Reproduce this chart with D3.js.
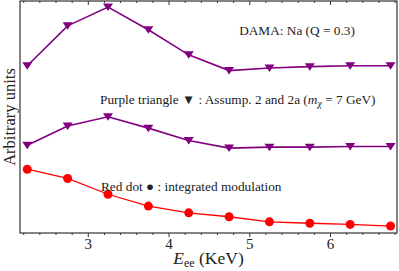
<!DOCTYPE html>
<html>
<head>
<meta charset="utf-8">
<script src="https://cdn.jsdelivr.net/npm/d3@7"></script>
<style>
  body { margin: 0; background: #fff; }
</style>
</head>
<body>
<svg id="chart"></svg>
<script>
// energy bins (KeV)
const energy = [2.25, 2.75, 3.25, 3.75, 4.25, 4.75, 5.25, 5.75, 6.25, 6.75];
// DAMA Na, arbitrary units
const damaNa = [7.21, 8.93, 9.74, 8.76, 7.68, 7.00, 7.11, 7.17, 7.21, 7.21];
const assump2 = [3.78, 4.61, 5.01, 4.52, 3.99, 3.66, 3.70, 3.70, 3.73, 3.73];
const modulation = [2.75, 2.35, 1.67, 1.16, 0.87, 0.70, 0.48, 0.42, 0.37, 0.30];
const xTicks = [3, 4, 5, 6];

const width = 399, height = 271;
const margin = {top: 1, right: 2, bottom: 38, left: 20};
const serif = "'Liberation Serif', 'Times New Roman', Times, 'DejaVu Serif', serif";

const svg = d3.select('#chart')
  .attr('width', width)
  .attr('height', height)
  .attr('font-family', serif);

const x = d3.scaleLinear()
  .domain([2.16, 6.83])
  .range([margin.left, width - margin.right]);

const y = d3.scaleLinear()
  .domain([0, 10])
  .range([height - margin.bottom, margin.top]);

const purple = '#800080';
const red = '#ff0000';

// frame
svg.append('rect')
  .attr('x', x.range()[0])
  .attr('y', y.range()[1])
  .attr('width', x.range()[1] - x.range()[0])
  .attr('height', y.range()[0] - y.range()[1])
  .attr('fill', 'none')
  .attr('stroke', '#333')
  .attr('stroke-width', 1.2);

// ticks, bottom and top
const minor = d3.range(2.2, 6.81, 0.2).filter(function(v){
  return Math.abs(v - Math.round(v)) > 0.01;
});

const bottomAxis = d3.axisBottom(x).tickValues(xTicks).tickSize(4).tickFormat(d3.format('d'));
const gb = svg.append('g')
  .attr('transform', 'translate(0,' + y.range()[0] + ')')
  .call(bottomAxis);
gb.select('.domain').remove();
gb.attr('font-family', serif);
gb.selectAll('text').attr('font-size', 15).attr('fill', '#222').attr('dy', '0.9em').attr('y', 2);

svg.append('g')
  .attr('transform', 'translate(0,' + y.range()[0] + ')')
  .call(d3.axisBottom(x).tickValues(minor).tickSize(2).tickFormat(''))
  .select('.domain').remove();

const gt = svg.append('g')
  .attr('transform', 'translate(0,' + y.range()[1] + ')')
  .call(d3.axisBottom(x).tickValues(xTicks).tickSize(4).tickFormat(''));
gt.select('.domain').remove();
svg.append('g')
  .attr('transform', 'translate(0,' + y.range()[1] + ')')
  .call(d3.axisBottom(x).tickValues(minor).tickSize(2).tickFormat(''))
  .select('.domain').remove();

svg.selectAll('.tick line').attr('stroke', '#333');

const line = d3.line()
  .x(function(d){ return x(d[0]); })
  .y(function(d){ return y(d[1]); });

function drawSeries(values, color, marker, lw) {
  const pts = energy.map(function(e, i){ return [e, values[i]]; });
  svg.append('path')
    .datum(pts)
    .attr('d', line)
    .attr('fill', 'none')
    .attr('stroke', color)
    .attr('stroke-width', lw);
  if (marker === 'tri') {
    svg.selectAll(null)
      .data(pts)
      .join('path')
      .attr('d', 'M-5,-3.5L5,-3.5L0,4Z')
      .attr('transform', function(d){ return 'translate(' + x(d[0]) + ',' + y(d[1]) + ')'; })
      .attr('fill', color);
  } else {
    svg.selectAll(null)
      .data(pts)
      .join('circle')
      .attr('cx', function(d){ return x(d[0]); })
      .attr('cy', function(d){ return y(d[1]); })
      .attr('r', 4.5)
      .attr('fill', color);
  }
}

drawSeries(damaNa, purple, 'tri', 1.6);
drawSeries(assump2, purple, 'tri', 1.6);
drawSeries(modulation, red, 'dot', 1.3);

// annotations
const fs = 13.3;
svg.append('text')
  .attr('x', 297).attr('y', 35)
  .attr('text-anchor', 'middle')
  .attr('font-size', fs)
  .attr('fill', '#222')
  .text('DAMA: Na (Q = 0.3)');

const t2 = svg.append('text')
  .attr('x', 100).attr('y', 104)
  .attr('font-size', fs)
  .attr('fill', '#222');
t2.append('tspan').text('Purple triangle ▼ : Assump. 2 and 2a (');
t2.append('tspan').attr('font-style', 'italic').text('m');
t2.append('tspan').attr('font-style', 'italic').attr('font-size', 10).attr('dy', 3).text('χ');
t2.append('tspan').attr('dy', -3).text(' = 7 GeV)');

svg.append('text')
  .attr('x', 101).attr('y', 191)
  .attr('font-size', fs)
  .attr('fill', '#222')
  .text('Red dot ● : integrated modulation');

// axis labels
const xl = svg.append('text')
  .attr('x', (x.range()[0] + x.range()[1]) / 2)
  .attr('y', 264)
  .attr('text-anchor', 'middle')
  .attr('font-size', 17.5)
  .attr('fill', '#222');
xl.append('tspan').attr('font-style', 'italic').text('E');
xl.append('tspan').attr('font-size', 12).attr('dy', 3).text('ee');
xl.append('tspan').attr('dy', -3).text(' (KeV)');

svg.append('text')
  .attr('transform', 'translate(14.5,' + (y.range()[0] + y.range()[1]) / 2 + ') rotate(-90)')
  .attr('text-anchor', 'middle')
  .attr('font-size', 16.5)
  .attr('fill', '#222')
  .text('Arbitrary units');
</script>
</body>
</html>
